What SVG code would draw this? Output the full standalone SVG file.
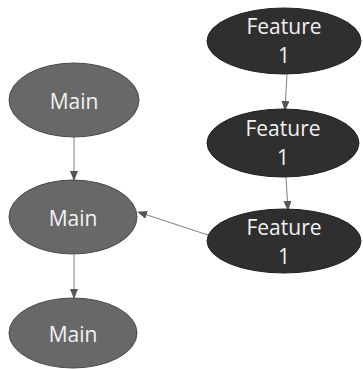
<svg xmlns="http://www.w3.org/2000/svg" width="363" height="369" viewBox="0 0 363 369">
<defs>
<style>
.main ellipse{fill:#686868;stroke:#4a4a4a;stroke-width:1}
.feat ellipse{fill:#2f2f2f;stroke:#222;stroke-width:1}
text{font-family:"Open Sans","Liberation Sans",sans-serif;font-size:21px;fill:#f2f2f2;text-anchor:middle}
.conn line{stroke:#808080;stroke-width:1}
</style>
<marker id="ah" markerWidth="10" markerHeight="8" refX="9" refY="4" orient="auto" markerUnits="userSpaceOnUse">
<path d="M0,0 L10,4 L0,8 Z" fill="#555"/>
</marker>
</defs>
<rect width="363" height="369" fill="#fff"/>
<g class="conn">
<line x1="74" y1="137" x2="74" y2="180" marker-end="url(#ah)"/>
<line x1="74" y1="255" x2="74" y2="298" marker-end="url(#ah)"/>
<line x1="287" y1="74" x2="285" y2="110" marker-end="url(#ah)"/>
<line x1="286" y1="177" x2="288" y2="210" marker-end="url(#ah)"/>
<line x1="208" y1="235" x2="138" y2="212" marker-end="url(#ah)"/>
</g>
<g id="main1" class="main"><ellipse cx="74" cy="100" rx="65" ry="37"/><text x="74" y="109">Main</text></g>
<g id="main2" class="main"><ellipse cx="73" cy="217" rx="64" ry="37"/><text x="73" y="226">Main</text></g>
<g id="main3" class="main"><ellipse cx="73" cy="333" rx="64" ry="35"/><text x="73" y="342">Main</text></g>
<g id="feat1" class="feat"><ellipse cx="284" cy="41" rx="77" ry="33"/><text x="284" y="34">Feature</text><text x="284" y="63">1</text></g>
<g id="feat2" class="feat"><ellipse cx="283" cy="143" rx="76" ry="34"/><text x="283" y="136">Feature</text><text x="283" y="165">1</text></g>
<g id="feat3" class="feat"><ellipse cx="284" cy="241" rx="77" ry="32"/><text x="284" y="235">Feature</text><text x="284" y="264">1</text></g>
</svg>
